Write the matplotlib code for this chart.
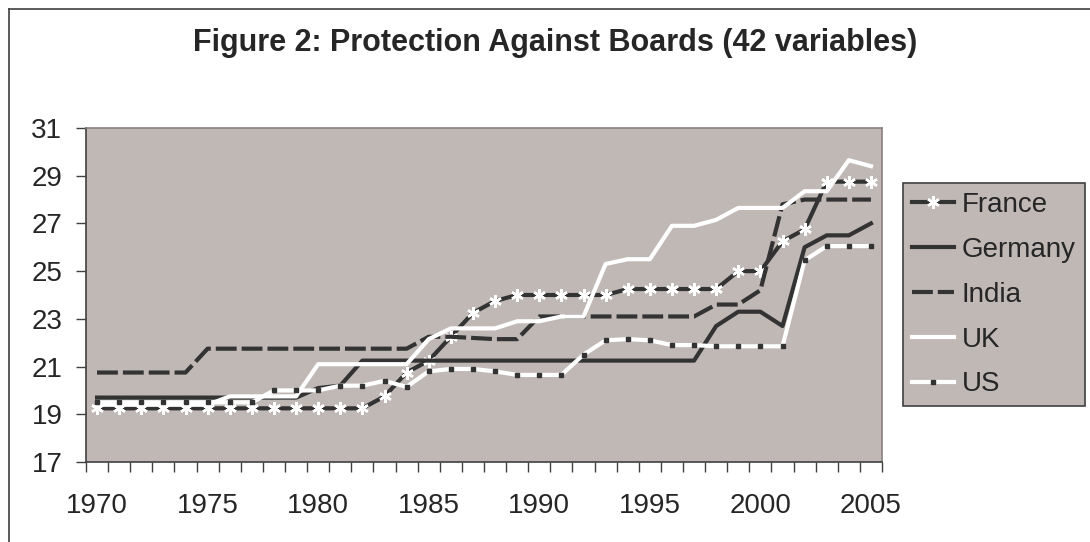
import matplotlib
matplotlib.use("Agg")
import matplotlib.pyplot as plt
from matplotlib.lines import Line2D
import numpy as np

plt.rcParams['font.family'] = ['Liberation Sans', 'DejaVu Sans']

# data
years = list(range(1970, 2006))
france = [19.25] * 13 + [19.75, 20.75, 21.25, 22.25, 23.25, 23.75] + [24.0] * 5 + [24.25] * 5 \
    + [25.0, 25.0, 26.25, 26.75] + [28.75] * 3
germany = [19.7] * 10 + [20.1, 20.2] + [21.25] * 16 + [22.7, 23.3, 23.3, 22.7, 26.0, 26.5, 26.5, 27.0]
india = [20.75] * 5 + [21.75] * 10 + [22.25, 22.25, 22.2, 22.15, 22.15] + [23.1] * 8 \
    + [23.6, 23.6, 24.2, 27.8] + [28.0] * 4
uk = [19.4] * 6 + [19.75] * 4 + [21.1] * 5 + [22.15] + [22.6] * 3 \
    + [22.9, 22.9, 23.1, 23.1, 25.3, 25.5, 25.5, 26.9, 26.9, 27.15] + [27.65] * 3 \
    + [28.35, 28.35, 29.65, 29.4]
us = [19.5] * 8 + [20.0] * 3 + [20.2, 20.2, 20.4, 20.15, 20.8, 20.9, 20.9, 20.8] + [20.65] * 3 \
    + [21.5, 22.1, 22.15, 22.1, 21.9, 21.9] + [21.85] * 4 + [25.45] + [26.05] * 3

labels = ['France', 'Germany', 'India', 'UK', 'US']
yticks = [17, 19, 21, 23, 25, 27, 29, 31]
xticks = [1970, 1975, 1980, 1985, 1990, 1995, 2000, 2005]

dark = '#333333'
bg = '#C0B8B5'
fs = 20

fig = plt.figure(figsize=(10.9, 5.42), dpi=100)
ax = fig.add_axes([86 / 1090, 1 - 462 / 542, 796 / 1090, 334 / 542])
ax.set_facecolor(bg)

lw = 3.0
ax.plot(years, france, color=dark, lw=lw, marker=(6, 2, 0), ms=9, mec='white', mew=1.8,
        label=labels[0])
ax.plot(years, germany, color=dark, lw=lw, label=labels[1])
ax.plot(years, india, color=dark, lw=lw, dashes=(5, 1.2), label=labels[2])
ax.plot(years, uk, color='white', lw=lw, label=labels[3])
ax.plot(years, us, color='white', lw=lw, marker='s', ms=3.5, mfc=dark, mec=dark,
        label=labels[4])

ax.set_xlim(1969.5, 2005.5)
ax.set_ylim(17, 31)
ax.set_yticks(yticks)
ax.set_xticks(xticks)
ax.set_xticks(np.arange(1969.5, 2006, 1), minor=True)
ax.tick_params(axis='y', direction='out', length=7, width=1, color='#404040', pad=10,
               labelsize=fs, labelcolor='#262626')
ax.tick_params(axis='x', which='major', length=0, pad=22, labelsize=fs, labelcolor='#262626')
ax.tick_params(axis='x', which='minor', direction='out', length=7, width=1, color='#404040')
for side in ['top', 'right']:
    ax.spines[side].set_color('#8a8080')
    ax.spines[side].set_linewidth(1.2)
for side in ['left', 'bottom']:
    ax.spines[side].set_color('#404040')
    ax.spines[side].set_linewidth(1.2)

fig.text(193 / 1090, 1 - 51 / 542, 'Figure 2: Protection Against Boards (42 variables)',
         ha='left', va='baseline', fontsize=22, fontweight='bold', color='#262626')

leg = fig.legend(loc='upper left', bbox_to_anchor=(903 / 1090, 1 - 183 / 542),
                 fontsize=fs, frameon=True, fancybox=False, handlelength=1.5,
                 handletextpad=0.3, labelspacing=0.68, borderpad=0.32, borderaxespad=0)
leg.get_frame().set_facecolor(bg)
leg.get_frame().set_edgecolor('#404040')
leg.get_frame().set_linewidth(1.2)
leg.get_frame().set_alpha(1)
for t in leg.get_texts():
    t.set_color('#262626')

# outer border (left and top edges visible in the crop)
fig.add_artist(Line2D([9 / 1090, 9 / 1090], [0, 1 - 9 / 542], transform=fig.transFigure,
                      color='#404040', lw=1.2))
fig.add_artist(Line2D([9 / 1090, 1], [1 - 9 / 542, 1 - 9 / 542], transform=fig.transFigure,
                      color='#404040', lw=1.2))

fig.savefig('out.png', dpi=100)
